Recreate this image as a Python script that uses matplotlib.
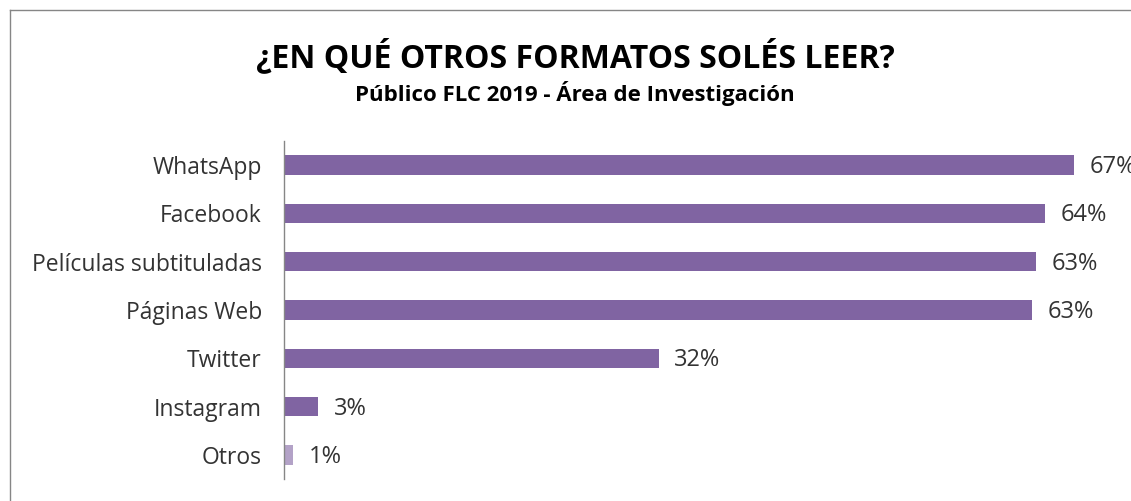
import matplotlib

matplotlib.use("Agg")
import matplotlib.pyplot as plt
from matplotlib.lines import Line2D

categories = [
    "WhatsApp",
    "Facebook",
    "Películas subtituladas",
    "Páginas Web",
    "Twitter",
    "Instagram",
    "Otros",
]
values = [66.6, 64.2, 63.4, 63.1, 31.6, 2.9, 0.8]

BAR = "#8064A2"
BAR_LIGHT = "#B3A2C7"
TEXT = "#333333"
GRID = "#868686"

plt.rcParams["font.family"] = ["Open Sans", "DejaVu Sans"]

W, H = 1131, 501
fig = plt.figure(figsize=(W / 100, H / 100), dpi=100)

# chart frame (extends past the right/bottom edge of the image)
fig.add_artist(Line2D([10 / W, 1.0], [1 - 10 / H] * 2, color=GRID, lw=1.0))
fig.add_artist(Line2D([10 / W] * 2, [0.0, 1 - 10 / H], color=GRID, lw=1.0))

px_per_unit = 11.86
xmax = 72
left, top, bottom = 284, 141, 479
ax = fig.add_axes(
    [left / W, 1 - bottom / H, px_per_unit * xmax / W, (bottom - top) / H]
)

ypos = list(range(len(categories)))
colors = [BAR] * (len(categories) - 1) + [BAR_LIGHT]
ax.barh(ypos, values, height=0.4, color=colors)
for y, v in zip(ypos, values):
    ax.text(v + 1.3, y + 0.04, f"{v:.0f}%", va="center", ha="left",
            fontsize=17, color=TEXT)

ax.set_xlim(0, xmax)
ax.set_ylim(len(categories) - 0.5, -0.5)
ax.set_yticks(ypos)
ax.set_yticklabels(categories, fontsize=16.5, color=TEXT)
ax.tick_params(axis="y", length=0, pad=16)
ax.set_xticks([])
for side in ("top", "right", "bottom"):
    ax.spines[side].set_visible(False)
ax.spines["left"].set_color(GRID)
ax.spines["left"].set_linewidth(1.0)
ax.patch.set_alpha(0)

fig.text(575 / W, 1 - 57 / H, "¿EN QUÉ OTROS FORMATOS SOLÉS LEER?",
         ha="center", va="center", fontsize=23, fontweight="bold", color="black")
fig.text(575 / W, 1 - 94 / H, "Público FLC 2019 - Área de Investigación",
         ha="center", va="center", fontsize=16, fontweight="bold", color="black")

fig.savefig("out.png", dpi=100)
